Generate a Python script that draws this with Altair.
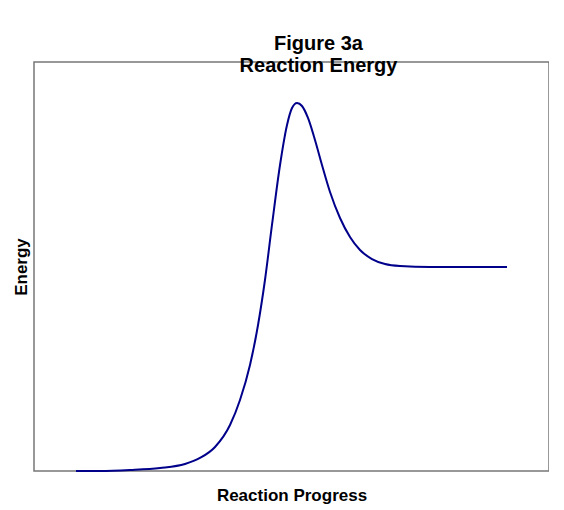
import altair as alt
import pandas as pd

progress = [8.16, 12.82, 18.64, 24.47, 29.32, 32.23, 35.15, 38.06, 40.0, 41.94, 43.50, 44.85, 46.21, 47.77, 49.13, 50.10, 51.07, 52.04, 53.2, 54.56, 55.92, 57.48, 59.42, 61.36, 63.30, 65.63, 68.16, 71.07, 76.89, 82.72, 91.84]
energy = [0, 0, 0.24, 0.73, 1.71, 3.18, 5.87, 11.25, 17.36, 25.92, 35.70, 46.70, 60.15, 74.82, 84.60, 88.75, 89.98, 89.24, 86.31, 80.93, 74.82, 68.22, 61.86, 57.21, 54.03, 51.83, 50.61, 50.12, 49.88, 49.88, 49.88]

df = pd.DataFrame({"p": progress, "e": energy})

chart = alt.Chart(df).mark_line(color="#00008B", strokeWidth=2, interpolate="monotone").encode(
    x=alt.X("p:Q", scale=alt.Scale(domain=[0, 100]), title="Reaction Progress",
            axis=alt.Axis(labels=False, ticks=False, grid=False, domain=False, titlePadding=16,
                          titleFontSize=17, titleFont="Liberation Sans", titleColor="black")),
    y=alt.Y("e:Q", scale=alt.Scale(domain=[0, 100]), title="Energy",
            axis=alt.Axis(labels=False, ticks=False, grid=False, domain=False, titlePadding=4,
                          titleFontSize=17, titleFont="Liberation Sans", titleColor="black")),
).properties(
    width=515, height=409,
    title=alt.TitleParams(["Figure 3a", "Reaction Energy"], fontSize=20, font="Liberation Sans",
                          fontWeight="bold", anchor="middle", offset=-14, dx=27, color="black"),
    autosize=alt.AutoSizeParams(type="none"),
    padding={"left": 26, "top": 54, "right": 0, "bottom": 40},
).configure_view(stroke="#777777", strokeWidth=1.5)

chart.save("out.html", embed_options={"renderer": "svg", "actions": False})
